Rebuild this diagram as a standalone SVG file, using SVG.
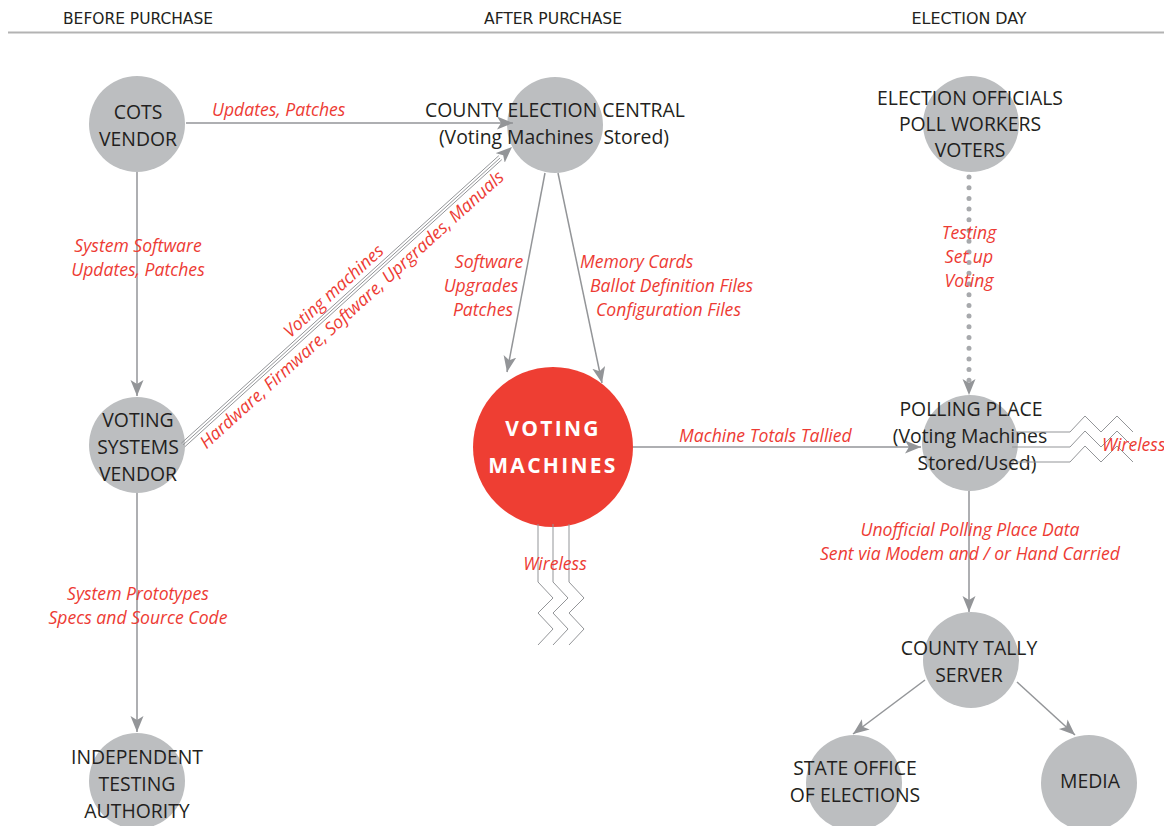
<svg xmlns="http://www.w3.org/2000/svg" width="1164" height="826" viewBox="0 0 1164 826">
<style>
.hdr{font-family:"Liberation Sans Narrow","DejaVu Sans Condensed","Liberation Sans",sans-serif;font-size:16px;fill:#231f20;text-anchor:middle}
.node{fill:#bcbec0}
.nt{font-family:"Open Sans","Noto Sans","Liberation Sans",sans-serif;font-size:19.4px;fill:#231f20;text-anchor:middle}
.lbl{font-family:"Open Sans","Noto Sans","Liberation Sans",sans-serif;font-size:17.6px;font-style:italic;fill:#ed3b34}
.mid{text-anchor:middle}
.ln{stroke:#939598;stroke-width:1.5;fill:none}
.thin{stroke:#939598;stroke-width:1;fill:none}
</style>
<defs>
<marker id="ah" markerUnits="userSpaceOnUse" markerWidth="18" markerHeight="14" refX="16" refY="6.5" orient="auto" viewBox="0 0 18 14">
<path d="M0,0 L16,6.5 L0,13 L4,6.5 z" fill="#939598"/>
</marker>
</defs>
<rect width="1164" height="826" fill="#ffffff"/>
<g id="header">
<text class="hdr" x="138" y="24" textLength="150" lengthAdjust="spacingAndGlyphs">BEFORE PURCHASE</text>
<text class="hdr" x="553" y="24" textLength="138" lengthAdjust="spacingAndGlyphs">AFTER PURCHASE</text>
<text class="hdr" x="969" y="24" textLength="115" lengthAdjust="spacingAndGlyphs">ELECTION DAY</text>
<line x1="8" y1="32.5" x2="1164" y2="32.5" stroke="#b3b3b3" stroke-width="2"/>
</g>
<g id="cots-vendor">
<circle class="node" cx="137" cy="124" r="48"/>
<text class="nt" x="138" y="119">COTS</text>
<text class="nt" x="138" y="146">VENDOR</text>
</g>
<g id="voting-systems-vendor">
<circle class="node" cx="137" cy="445" r="48"/>
<text class="nt" x="138" y="427">VOTING</text>
<text class="nt" x="138" y="454">SYSTEMS</text>
<text class="nt" x="138" y="481">VENDOR</text>
</g>
<g id="independent-testing-authority">
<circle class="node" cx="137" cy="781" r="48"/>
<text class="nt" x="137" y="764">INDEPENDENT</text>
<text class="nt" x="137" y="791">TESTING</text>
<text class="nt" x="137" y="818">AUTHORITY</text>
</g>
<g id="county-election-central">
<circle class="node" cx="555" cy="125" r="48"/>
<text class="nt" x="555" y="117">COUNTY ELECTION CENTRAL</text>
<text class="nt" x="554" y="144" xml:space="preserve">(Voting Machines  Stored)</text>
</g>
<g id="voting-machines">
<circle cx="553" cy="447" r="80" fill="#ee3e33"/>
<text x="553" y="436" text-anchor="middle" font-family="'Open Sans','Liberation Sans',sans-serif" font-size="21" font-weight="bold" letter-spacing="2.3" fill="#ffffff">VOTING</text>
<text x="553" y="473" text-anchor="middle" font-family="'Open Sans','Liberation Sans',sans-serif" font-size="21" font-weight="bold" letter-spacing="2.3" fill="#ffffff">MACHINES</text>
</g>
<g id="election-officials">
<circle class="node" cx="971" cy="124" r="48"/>
<text class="nt" x="970" y="105">ELECTION OFFICIALS</text>
<text class="nt" x="970" y="131">POLL WORKERS</text>
<text class="nt" x="970" y="157">VOTERS</text>
</g>
<g id="polling-place">
<circle class="node" cx="970" cy="443" r="48"/>
<text class="nt" x="971" y="416">POLLING PLACE</text>
<text class="nt" x="970" y="443">(Voting Machines</text>
<text class="nt" x="977" y="470">Stored/Used)</text>
</g>
<g id="county-tally-server">
<circle class="node" cx="971" cy="660" r="48"/>
<text class="nt" x="969" y="655">COUNTY TALLY</text>
<text class="nt" x="969" y="682">SERVER</text>
</g>
<g id="state-office">
<circle class="node" cx="854" cy="783" r="48"/>
<text class="nt" x="855" y="775">STATE OFFICE</text>
<text class="nt" x="855" y="802">OF ELECTIONS</text>
</g>
<g id="media">
<circle class="node" cx="1089" cy="783" r="48"/>
<text class="nt" x="1090" y="788">MEDIA</text>
</g>
<g id="connectors">
<line class="ln" x1="186" y1="123" x2="513" y2="123" marker-end="url(#ah)"/>
<line class="ln" x1="137" y1="172" x2="137" y2="396" marker-end="url(#ah)"/>
<line class="ln" x1="137" y1="493" x2="137" y2="732" marker-end="url(#ah)"/>
<line class="ln" x1="545" y1="173" x2="507" y2="372" marker-end="url(#ah)"/>
<line class="ln" x1="558" y1="173" x2="602" y2="383" marker-end="url(#ah)"/>
<line class="ln" x1="633" y1="447" x2="921" y2="447" marker-end="url(#ah)"/>
<line x1="969" y1="177" x2="969" y2="383" stroke="#a7a9ac" stroke-width="5" stroke-linecap="round" stroke-dasharray="0 10.7"/>
<path d="M969,395 l-6.5,-16 l6.5,4 l6.5,-4 z" fill="#939598"/>
<line class="ln" x1="969" y1="491" x2="969" y2="612" marker-end="url(#ah)"/>
<line class="ln" x1="925" y1="680" x2="853" y2="734" marker-end="url(#ah)"/>
<line class="ln" x1="1017" y1="682" x2="1075" y2="735" marker-end="url(#ah)"/>
<line class="thin" x1="181.3" y1="443.2" x2="498.8" y2="155.7"/>
<line class="thin" x1="183" y1="445" x2="500" y2="158"/>
<line class="thin" x1="184.7" y1="446.9" x2="501.8" y2="159.6"/>
<line x1="498" y1="160" x2="512" y2="147" stroke="none" marker-end="url(#ah)"/>
<path class="thin" d="M538,524 V582 L553,598 L538,613 L553,629 L538,645"/>
<path class="thin" d="M553,524 V582 L568,598 L553,613 L568,629 L553,645"/>
<path class="thin" d="M569,524 V582 L584,598 L569,613 L584,629 L569,645"/>
<path class="thin" d="M1016,432 H1070 L1085,416 L1101,432 L1117,416 L1133,432"/>
<path class="thin" d="M1012,447 H1070 L1085,431 L1101,447 L1117,431 L1133,447"/>
<path class="thin" d="M1016,462 H1070 L1085,446 L1101,462 L1117,446 L1133,462"/>
</g>
<g id="labels">
<text class="lbl" x="212" y="116">Updates, Patches</text>
<text class="lbl mid" x="138" y="252">System Software</text>
<text class="lbl mid" x="138" y="276">Updates, Patches</text>
<text class="lbl mid" x="138" y="600">System Prototypes</text>
<text class="lbl mid" x="138" y="624">Specs and Source Code</text>
<g transform="translate(183,445) rotate(-42.2)">
<text class="lbl mid" x="215" y="-7">Voting machines</text>
<text class="lbl mid" x="216" y="19">Hardware, Firmware, Software, Uprgrades, Manuals</text>
</g>
<text class="lbl mid" x="489" y="268">Software</text>
<text class="lbl mid" x="481" y="292">Upgrades</text>
<text class="lbl mid" x="483" y="316">Patches</text>
<text class="lbl" x="580" y="268">Memory Cards</text>
<text class="lbl" x="590" y="292">Ballot Definition Files</text>
<text class="lbl" x="596" y="316">Configuration Files</text>
<text class="lbl" x="679" y="442">Machine Totals Tallied</text>
<text class="lbl mid" x="969" y="239">Testing</text>
<text class="lbl mid" x="969" y="263">Set up</text>
<text class="lbl mid" x="969" y="287">Voting</text>
<text class="lbl mid" x="970" y="536">Unofficial Polling Place Data</text>
<text class="lbl mid" x="970" y="560">Sent via Modem and / or Hand Carried</text>
<text class="lbl mid" x="555" y="570">Wireless</text>
<text class="lbl" x="1102" y="451">Wireless</text>
</g>
</svg>
